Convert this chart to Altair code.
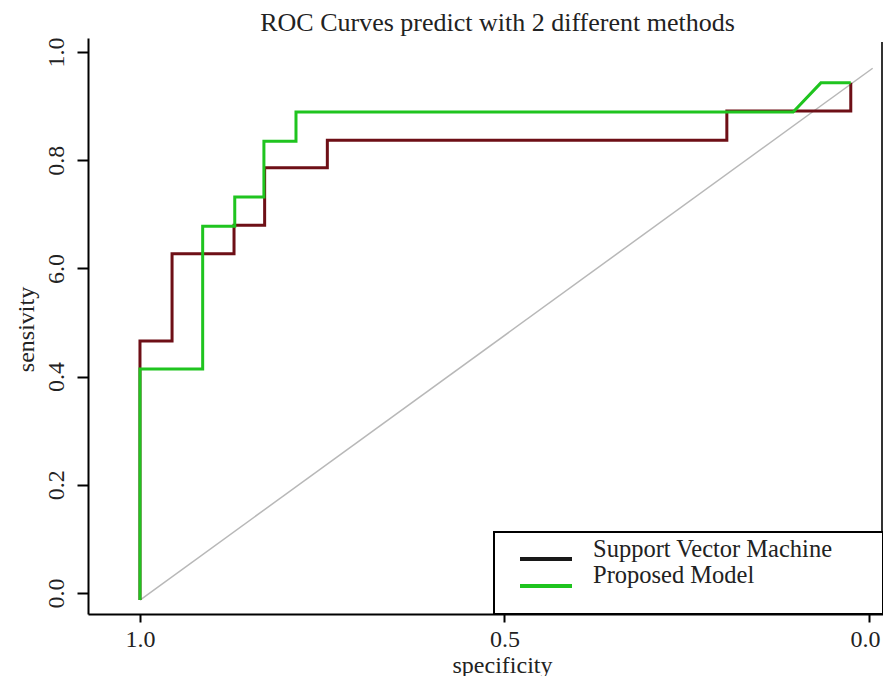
import altair as alt
import pandas as pd

title_text = "ROC Curves predict with 2 different methods"
models = ["Support Vector Machine", "Proposed Model"]
line_colors = ["#6e0f16", "#1fc41f"]
legend_line_colors = ["#1a1a1a", "#1fc41f"]

svm_specificity = [1.0, 1.0, 0.956, 0.956, 0.871, 0.871, 0.829, 0.829, 0.743, 0.743, 0.195, 0.195, 0.025, 0.025]
svm_sensitivity = [-0.013, 0.466, 0.466, 0.627, 0.627, 0.680, 0.680, 0.786, 0.786, 0.837, 0.837, 0.891, 0.891, 0.943]
pm_specificity = [1.0, 1.0, 0.914, 0.914, 0.870, 0.870, 0.830, 0.830, 0.786, 0.786, 0.104, 0.066, 0.025]
pm_sensitivity = [-0.013, 0.414, 0.414, 0.678, 0.678, 0.732, 0.732, 0.835, 0.835, 0.889, 0.889, 0.943, 0.943]
diag_specificity = [1.0, -0.005]
diag_sensitivity = [-0.013, 0.970]

x_ticks = [0.0, 0.5, 1.0]
y_ticks = [0.0, 0.2, 0.4, 0.6, 0.8, 1.0]
y_tick_labels = ["0.0", "0.2", "0.4", "6.0", "0.8", "1.0"]

FONT = "Liberation Serif"
W, H = 795, 576

rows = []
for i, (s, v) in enumerate(zip(svm_specificity, svm_sensitivity)):
    rows.append({"model": models[0], "idx": i, "specificity": s, "sensitivity": v})
for i, (s, v) in enumerate(zip(pm_specificity, pm_sensitivity)):
    rows.append({"model": models[1], "idx": i, "specificity": s, "sensitivity": v})
df = pd.DataFrame(rows)
diag = pd.DataFrame({"specificity": diag_specificity, "sensitivity": diag_sensitivity, "idx": [0, 1]})

# label expression for the y axis (keeps the "6.0" as printed)
expr = "'" + y_tick_labels[-1] + "'"
for t, lab in reversed(list(zip(y_ticks[:-1], y_tick_labels[:-1]))):
    expr = f"datum.value < {t + 0.1:.2f} ? '{lab}' : ({expr})"

xscale = alt.Scale(domain=[-0.0192, 1.0713], reverse=True, nice=False, zero=False)
yscale = alt.Scale(domain=[-0.0388, 1.0259], nice=False, zero=False)

xaxis = alt.Axis(values=x_ticks, format=".1f", title="specificity", grid=False,
                 domainColor="black", domainWidth=2, tickColor="black", tickWidth=2,
                 tickSize=8, labelPadding=5, labelFont=FONT, labelFontSize=24,
                 labelColor="#222", labelBaseline="top",
                 labelOffset=alt.condition("datum.value < 0.01", alt.value(-4), alt.value(0)),
                 titleFont=FONT, titleFontSize=24, titleFontWeight="normal", titleColor="#222",
                 titleX=414, titleY=58, titleAlign="center", titleBaseline="alphabetic")
yaxis = alt.Axis(values=y_ticks, labelExpr=expr, title="sensivity", grid=False,
                 domainColor="black", domainWidth=2, tickColor="black", tickWidth=2,
                 tickSize=11, labelPadding=14, labelFont=FONT, labelFontSize=24,
                 labelColor="#222", labelAngle=270, labelAlign="center", labelBaseline="alphabetic",
                 titleFont=FONT, titleFontSize=24, titleFontWeight="normal", titleColor="#222",
                 titleAngle=270, titleX=-55, titleY=291, titleAlign="center", titleBaseline="alphabetic")

diag_layer = alt.Chart(diag).mark_line(color="#b8b8b8", strokeWidth=1.5).encode(
    x=alt.X("specificity:Q", scale=xscale, axis=xaxis),
    y=alt.Y("sensitivity:Q", scale=yscale, axis=yaxis),
    order="idx:Q",
)

curves = alt.Chart(df).mark_line(strokeWidth=3).encode(
    x=alt.X("specificity:Q", scale=xscale),
    y=alt.Y("sensitivity:Q", scale=yscale),
    color=alt.Color("model:N", scale=alt.Scale(domain=models, range=line_colors), legend=None),
    order="idx:Q",
    detail="model:N",
)
svm_layer = curves.transform_filter(alt.datum.model == models[0])
pm_layer = curves.transform_filter(alt.datum.model == models[1])

frame_line = alt.Chart(df).mark_rule(color="#333", strokeWidth=2).encode(
    x=alt.value(W - 1), y=alt.value(4), y2=alt.value(H)
)

legend_box = alt.Chart(df).mark_rect(fill="white", stroke="black", strokeWidth=2).encode(
    x=alt.value(406), x2=alt.value(W), y=alt.value(494), y2=alt.value(H)
)
leg_line1 = alt.Chart(df).mark_rule(color=legend_line_colors[0], strokeWidth=2.5).encode(
    x=alt.value(432), x2=alt.value(484), y=alt.value(521)
)
leg_line2 = alt.Chart(df).mark_rule(color=legend_line_colors[1], strokeWidth=3).encode(
    x=alt.value(432), x2=alt.value(484), y=alt.value(548)
)
leg_text1 = alt.Chart(pd.DataFrame({"t": [models[0]]})).mark_text(
    font=FONT, fontSize=24.5, align="left", baseline="alphabetic", color="#222"
).encode(text="t:N", x=alt.value(505), y=alt.value(519))
leg_text2 = alt.Chart(pd.DataFrame({"t": [models[1]]})).mark_text(
    font=FONT, fontSize=24.5, align="left", baseline="alphabetic", color="#222"
).encode(text="t:N", x=alt.value(505), y=alt.value(545))

title_mark = alt.Chart(pd.DataFrame({"t": [title_text]})).mark_text(
    font=FONT, fontSize=26, align="center", baseline="alphabetic", color="#222"
).encode(text="t:N", x=alt.value(409.5), y=alt.value(-7))

chart = alt.layer(
    diag_layer, svm_layer, pm_layer, frame_line,
    legend_box, leg_line1, leg_line2, leg_text1, leg_text2, title_mark,
).properties(
    width=W, height=H,
    autosize=alt.AutoSizeParams(type="none"),
    padding={"left": 80, "top": 30, "right": 0, "bottom": 62},
    background="white",
).configure_view(stroke=None)

chart.save("out.html", embed_options={"renderer": "svg", "actions": False})
